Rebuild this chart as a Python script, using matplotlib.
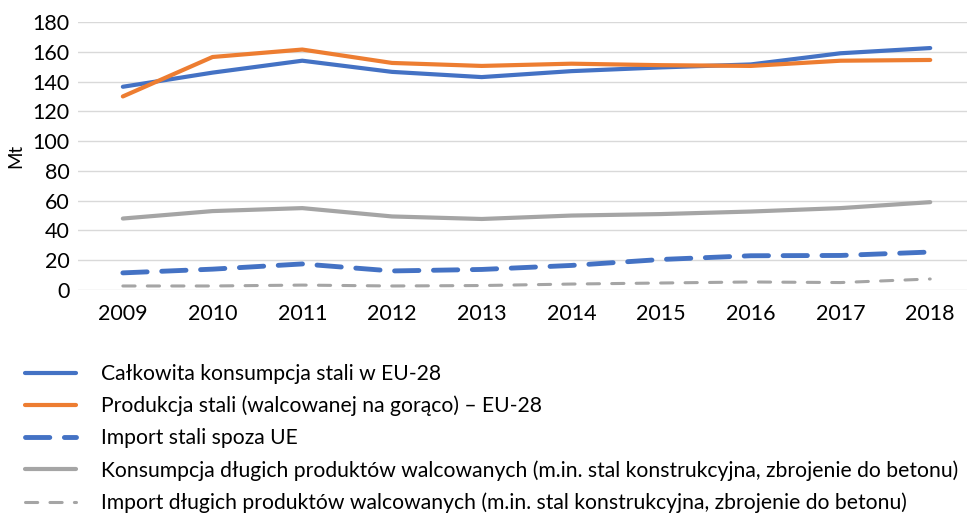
import matplotlib
matplotlib.use("Agg")
import matplotlib.pyplot as plt

plt.rcParams['font.family'] = ['Lato', 'DejaVu Sans']

years = ['2009', '2010', '2011', '2012', '2013', '2014', '2015', '2016', '2017', '2018']

# wartości (Mt)
konsumpcja_calk = [136.5, 146, 154, 146.5, 143, 147, 149.5, 151.5, 159, 162.5]
produkcja = [130, 156.5, 161.5, 152.5, 150.5, 152, 151, 150.5, 154, 154.5]
import_stali = [11.5, 14, 17.5, 12.8, 13.8, 16.5, 20.5, 23, 23.2, 25.5]
konsumpcja_dlugie = [48, 53, 55, 49.4, 47.7, 50, 51, 52.7, 55, 59]
import_dlugie = [2.7, 2.7, 3.3, 2.7, 3, 4, 4.7, 5.4, 5, 7.4]

labels = [
    'Całkowita konsumpcja stali w EU-28',
    'Produkcja stali (walcowanej na gorąco) – EU-28',
    'Import stali spoza UE',
    'Konsumpcja długich produktów walcowanych (m.in. stal konstrukcyjna, zbrojenie do betonu)',
    'Import długich produktów walcowanych (m.in. stal konstrukcyjna, zbrojenie do betonu)',
]

blue = '#4472C4'
orange = '#ED7D31'
gray = '#A5A5A5'

fig = plt.figure(figsize=(9.67, 5.19), dpi=100)
ax = fig.add_axes([78 / 967, 229 / 519, 889 / 967, 268 / 519])

x = range(len(years))
ax.plot(x, konsumpcja_calk, color=blue, lw=3, solid_capstyle='round', label=labels[0])
ax.plot(x, produkcja, color=orange, lw=3, solid_capstyle='round', label=labels[1])
ax.plot(x, import_stali, color=blue, lw=3.5, dashes=(5, 3), dash_capstyle='round', label=labels[2])
ax.plot(x, konsumpcja_dlugie, color=gray, lw=3, solid_capstyle='round', label=labels[3])
ax.plot(x, import_dlugie, color=gray, lw=2.2, dashes=(4, 4), dash_capstyle='round', label=labels[4])

ax.set_ylim(0, 180)
ax.set_yticks(range(0, 181, 20))
ax.set_xlim(-0.5, 9.41)
ax.set_xticks(list(x))
ax.set_xticklabels(years)
ax.yaxis.grid(True, color='#D9D9D9', lw=1)
ax.set_axisbelow(True)
for s in ax.spines.values():
    s.set_visible(False)
ax.tick_params(length=0, labelsize=15.5, colors='#000000')
ax.tick_params(axis='x', pad=10)
ax.tick_params(axis='y', pad=6)
ax.set_ylabel('Mt', fontsize=13.5, labelpad=6)

handles, lbls = ax.get_legend_handles_labels()
fig.legend(handles, lbls, loc='upper left', bbox_to_anchor=(25 / 967, 1 - 364 / 519),
           frameon=False, fontsize=15.2, handlelength=2.4, handletextpad=1.2,
           labelspacing=0.56, borderaxespad=0, borderpad=0)

fig.savefig('out.png', dpi=100)
